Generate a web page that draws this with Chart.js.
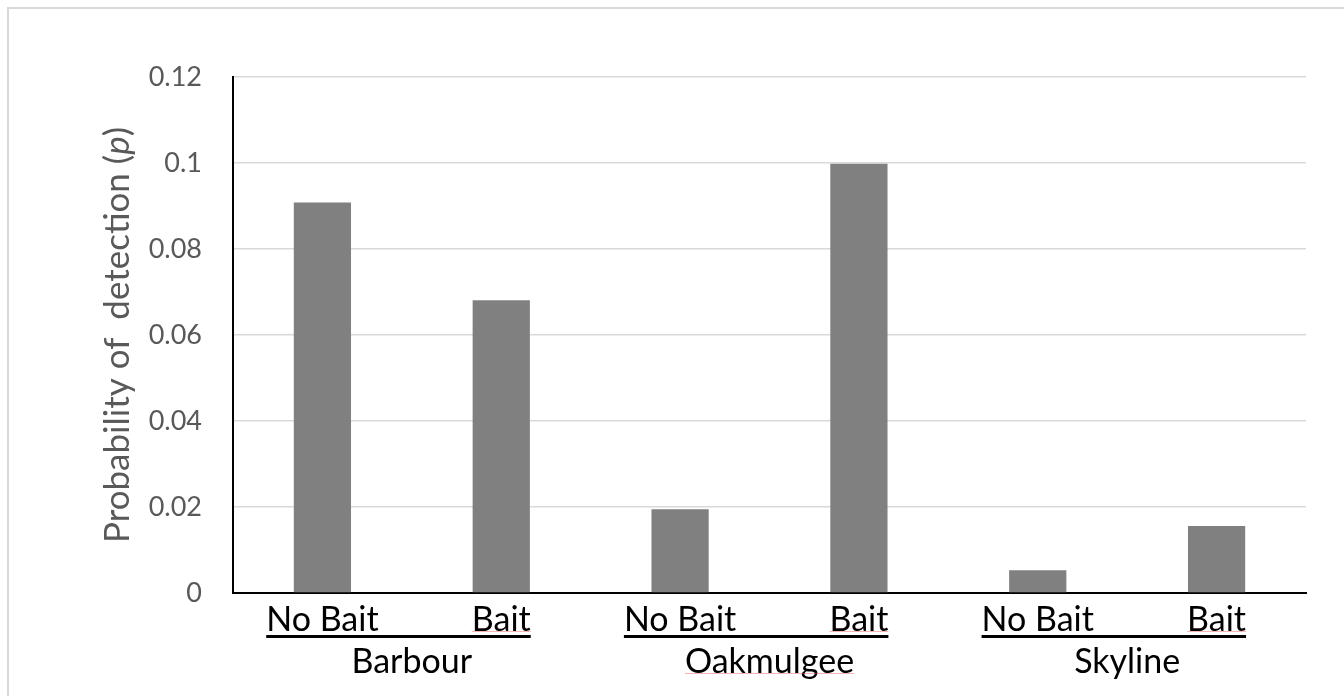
<!DOCTYPE html>
<html>
<head>
<meta charset="utf-8">
<script src="https://cdn.jsdelivr.net/npm/chart.js@4.4.1/dist/chart.umd.min.js"></script>
<style>
  body { margin: 0; background: #fff; }
</style>
</head>
<body>
<canvas id="detectionChart" width="1344" height="696"></canvas>
<script>
// Probability of detection by site and bait treatment

const treatments = ['No Bait', 'Bait', 'No Bait', 'Bait', 'No Bait', 'Bait'];
const sites = ['Barbour', 'Oakmulgee', 'Skyline'];
const detection = [0.0908, 0.0681, 0.0195, 0.0998, 0.0053, 0.0156];
const yTicks = [0, 0.02, 0.04, 0.06, 0.08, 0.1, 0.12];

const fontFamily = "Lato, 'Open Sans', sans-serif";

// border, rotated y title with italic p, and group underlines
const extras = {
    id: 'extras',
    beforeDraw(chart) {
        const ctx = chart.ctx;
        ctx.save();
        ctx.strokeStyle = '#d9d9d9';
        ctx.lineWidth = 2;
        ctx.strokeRect(8, 8, chart.width, chart.height);
        ctx.restore();
    },
    afterDraw(chart) {
        const ctx = chart.ctx;
        const area = chart.chartArea;
        const xs = chart.scales.x;
        const x2 = chart.scales.x2;

        // y axis title
        const parts = [
            ['Probability of  detection (', 'normal'],
            ['p', 'italic'],
            [')', 'normal']
        ];
        ctx.save();
        ctx.translate(118, (area.top + area.bottom) / 2);
        ctx.rotate(-Math.PI / 2);
        ctx.fillStyle = '#595959';
        ctx.textBaseline = 'middle';
        let total = 0;
        parts.forEach(p => {
            ctx.font = `${p[1]} 35px ${fontFamily}`;
            total += ctx.measureText(p[0]).width;
        });
        let pos = -total / 2;
        parts.forEach(p => {
            ctx.font = `${p[1]} 35px ${fontFamily}`;
            ctx.fillText(p[0], pos, 0);
            pos += ctx.measureText(p[0]).width;
        });
        ctx.restore();

        // underline spanning each group's treatment labels
        ctx.save();
        ctx.font = `34px ${fontFamily}`;
        const lineY = xs.top + 42;
        sites.forEach((site, g) => {
            const a = 2 * g, b = 2 * g + 1;
            const left = xs.getPixelForValue(a) - ctx.measureText(treatments[a]).width / 2;
            const baitW = ctx.measureText(treatments[b]).width;
            const right = xs.getPixelForValue(b) + baitW / 2;
            ctx.fillStyle = '#000';
            ctx.fillRect(left, lineY, right - left, 3);
            // faint spell-check marks
            ctx.fillStyle = 'rgba(235, 90, 90, 0.45)';
            ctx.fillRect(right - baitW, lineY - 4, baitW, 1);
            if (site === 'Oakmulgee') {
                const w = ctx.measureText(site).width;
                const cx = x2.getPixelForValue(g);
                ctx.fillRect(cx - w / 2, x2.top + 32, w, 1);
            }
        });
        ctx.restore();
    }
};

const ctx = document.getElementById('detectionChart').getContext('2d');
new Chart(ctx, {
    type: 'bar',
    data: {
        labels: treatments,
        datasets: [{
            label: 'Probability of detection',
            data: detection,
            backgroundColor: '#808080',
            borderWidth: 0,
            barPercentage: 0.32,
            categoryPercentage: 1,
            xAxisID: 'x',
            yAxisID: 'y'
        }]
    },
    options: {
        responsive: false,
        animation: false,
        devicePixelRatio: 1,
        layout: {
            padding: { top: 77, right: 38, bottom: 13, left: 0 }
        },
        plugins: {
            legend: { display: false },
            tooltip: { enabled: false }
        },
        scales: {
            x: {
                type: 'category',
                position: 'bottom',
                grid: { display: false, drawTicks: false },
                border: { color: '#000', width: 2 },
                ticks: {
                    color: '#000',
                    font: { family: fontFamily, size: 34 },
                    padding: 7,
                    maxRotation: 0,
                    autoSkip: false
                },
                afterFit(scale) { scale.height = 48; }
            },
            x2: {
                type: 'category',
                position: 'bottom',
                labels: sites,
                offset: true,
                grid: { display: false, drawTicks: false },
                border: { display: false },
                ticks: {
                    color: '#000',
                    font: { family: fontFamily, size: 34 },
                    padding: 1,
                    maxRotation: 0,
                    autoSkip: false
                },
                afterFit(scale) { scale.height = 42; }
            },
            y: {
                min: 0,
                max: 0.12,
                afterBuildTicks(scale) {
                    scale.ticks = yTicks.map(v => ({ value: v }));
                },
                grid: { color: '#d9d9d9', lineWidth: 1.5, drawTicks: false },
                border: { color: '#000', width: 2 },
                ticks: {
                    color: '#595959',
                    font: { family: fontFamily, size: 27 },
                    padding: 31,
                    callback: v => String(+Number(v).toFixed(2))
                },
                afterFit(scale) { scale.width = 233; }
            }
        }
    },
    plugins: [extras]
});
</script>
</body>
</html>
